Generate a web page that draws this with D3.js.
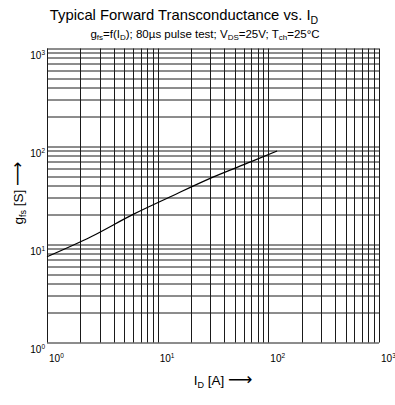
<!DOCTYPE html>
<html>
<head>
<meta charset="utf-8">
<script src="https://cdn.jsdelivr.net/npm/d3@7"></script>
<style>
  body { margin: 0; background: #fff; }
  svg { font-family: "Liberation Sans", Arial, sans-serif; }
</style>
</head>
<body>
<svg id="drawing_region"></svg>
<script>
// drain current I_D [A] and forward transconductance g_fs [S]
const current = [1, 2.5, 6, 13, 32, 70, 120];
const gfs = [7.5, 12, 20.3, 30.7, 49, 70, 90];
const xTicks = [1, 10, 100, 1000];
const yTicks = [1, 10, 100, 1000];
const tickExp = ["0", "1", "2", "3"];

const config = {
    width: 395,
    height: 405,
    margin: {top: 48.5, right: 16, bottom: 62.5, left: 47}
};

const svg = d3.select('#drawing_region')
    .attr('width', config.width)
    .attr('height', config.height);

const inner_w = config.width - config.margin.left - config.margin.right;
const inner_h = config.height - config.margin.top - config.margin.bottom;

const g = svg.append('g')
    .attr('transform', `translate(${config.margin.left}, ${config.margin.top})`);

const xscale = d3.scaleLog().domain([1, 1000]).range([0, inner_w]);
const yscale = d3.scaleLog().domain([1, 1000]).range([inner_h, 0]);

// minor grid: 1..9 in every decade
const minor = [];
[1, 10, 100].forEach(dec => {
    for (let k = 1; k <= 9; k++) minor.push(dec * k);
});
minor.push(1000);

g.selectAll('.vgrid')
    .data(minor)
    .enter()
    .append('line')
    .attr('x1', d => Math.round(xscale(d)) + 0.5)
    .attr('x2', d => Math.round(xscale(d)) + 0.5)
    .attr('y1', 0)
    .attr('y2', inner_h)
    .attr('stroke', '#1a1a1a')
    .attr('stroke-width', 1);

g.selectAll('.hgrid')
    .data(minor)
    .enter()
    .append('line')
    .attr('y1', d => Math.round(yscale(d)) + 0.5)
    .attr('y2', d => Math.round(yscale(d)) + 0.5)
    .attr('x1', 0)
    .attr('x2', inner_w)
    .attr('stroke', '#1a1a1a')
    .attr('stroke-width', 1);

// curve
const line = d3.line()
    .x((d, i) => xscale(current[i]))
    .y(d => yscale(d))
    .curve(d3.curveMonotoneX);

g.append('path')
    .attr('d', line(gfs))
    .attr('fill', 'none')
    .attr('stroke', '#000')
    .attr('stroke-width', 1.2);

// tick labels
g.selectAll('.xlab')
    .data(xTicks)
    .enter()
    .append('text')
    .attr('x', d => xscale(d) + 2)
    .attr('y', inner_h + 19.5)
    .attr('font-size', '10px')
    .attr('fill', '#000')
    .each(function(d, i) {
        const t = d3.select(this);
        t.append('tspan').text('10');
        t.append('tspan').attr('font-size', '6.5px').attr('dy', -4).text(tickExp[i]);
    });

g.selectAll('.ylab')
    .data(yTicks)
    .enter()
    .append('text')
    .attr('x', -2)
    .attr('y', d => yscale(d) + 10.5)
    .attr('text-anchor', 'end')
    .attr('font-size', '10px')
    .attr('fill', '#000')
    .each(function(d, i) {
        const t = d3.select(this);
        t.append('tspan').text('10');
        t.append('tspan').attr('font-size', '6.5px').attr('dy', -4).text(tickExp[i]);
    });

// titles
const title = svg.append('text')
    .attr('x', 184)
    .attr('y', 19.5)
    .attr('text-anchor', 'middle')
    .attr('font-size', '14.8px');
title.append('tspan').text('Typical Forward Transconductance vs. I');
title.append('tspan').attr('font-size', '10.5px').attr('dy', 4).text('D');

const sub = svg.append('text')
    .attr('x', 205)
    .attr('y', 37.5)
    .attr('text-anchor', 'middle')
    .attr('font-size', '11.5px');
const subParts = [
    ['g', 0], ['fs', 1], ['=f(I', 0], ['D', 1], ['); 80µs pulse test; V', 0],
    ['DS', 1], ['=25V; T', 0], ['ch', 1], ['=25°C', 0]
];
let prevSub = 0;
subParts.forEach(p => {
    const dy = p[1] === prevSub ? 0 : (p[1] ? 2.5 : -2.5);
    sub.append('tspan')
        .attr('dy', dy)
        .attr('font-size', p[1] ? '8px' : '11.5px')
        .text(p[0]);
    prevSub = p[1];
});

// x axis label
const xl = svg.append('text')
    .attr('x', 223)
    .attr('y', 385)
    .attr('text-anchor', 'middle')
    .attr('font-size', '13.5px');
xl.append('tspan').text('I');
xl.append('tspan').attr('font-size', '9px').attr('dy', 3).text('D');
xl.append('tspan').attr('dy', -3).text(' [A] ');
xl.append('tspan').attr('font-size', '17px').attr('font-family', 'DejaVu Sans').text('⟶');

// y axis label
const yl = svg.append('text')
    .attr('transform', 'translate(23, 193) rotate(-90)')
    .attr('text-anchor', 'middle')
    .attr('font-size', '13.5px');
yl.append('tspan').text('g');
yl.append('tspan').attr('font-size', '9px').attr('dy', 3).text('fs');
yl.append('tspan').attr('dy', -3).text(' [S] ');
yl.append('tspan').attr('font-size', '17px').attr('font-family', 'DejaVu Sans').text('⟶');
</script>
</body>
</html>
